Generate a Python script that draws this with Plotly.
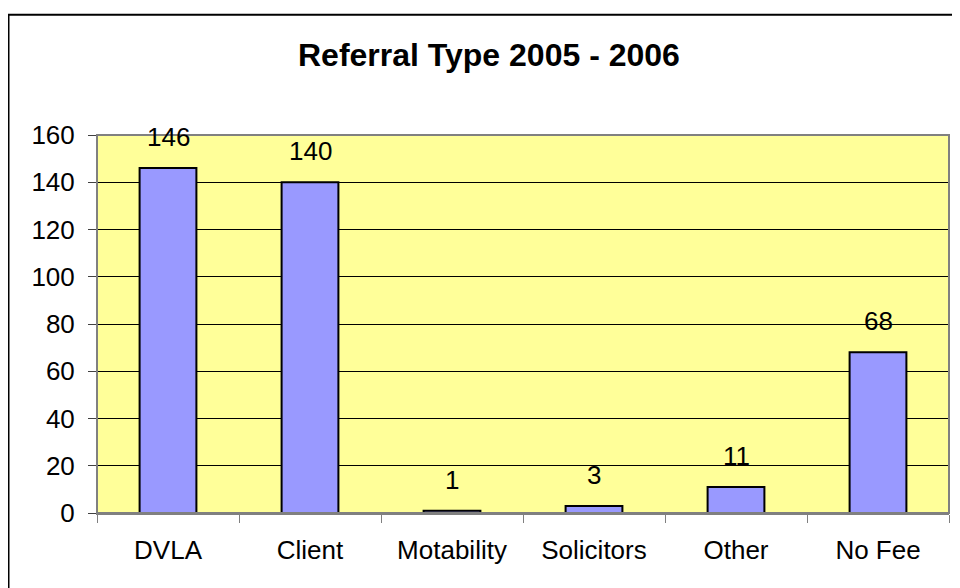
import plotly.graph_objects as go

categories = ["DVLA", "Client", "Motability", "Solicitors", "Other", "No Fee"]
values = [146, 140, 1, 3, 11, 68]
y_ticks = [0, 20, 40, 60, 80, 100, 120, 140, 160]
title_text = "Referral Type 2005 - 2006"

FONT = "Liberation Sans, Arial, sans-serif"

# figure size chosen so that the page (with 8px body margin) does not scroll
FW, FH = 952, 580
# figure-pixel geometry of plot area
L, R, T, B = 89, 941, 126.5, 505
PW, PH = R - L, B - T

fig = go.Figure()
fig.add_trace(go.Bar(
    x=categories, y=values,
    marker=dict(color="#9999FF", line=dict(color="black", width=2)),
    width=0.4,
    hoverinfo="skip",
))

annotations = []
for c, v in zip(categories, values):
    annotations.append(dict(
        x=c, y=v, xref="x", yref="y", text=str(v), showarrow=False,
        yanchor="bottom", yshift=14,
        font=dict(family=FONT, size=26, color="black"),
    ))
annotations.append(dict(
    x=(481 - L) / PW, y=(B - 46) / PH, xref="paper", yref="paper",
    text="<b>" + title_text + "</b>", showarrow=False,
    xanchor="center", yanchor="middle",
    font=dict(family=FONT, size=32, color="black"),
))

shapes = [
    # outer chart border (right and bottom edges fall outside the picture)
    dict(type="rect", xref="paper", yref="paper",
         x0=(0.5 - L) / PW, x1=1.2, y0=-0.5, y1=(B - 6) / PH,
         line=dict(color="black", width=2), fillcolor="rgba(0,0,0,0)", layer="below"),
    # plot area border (top/right gray)
    dict(type="rect", xref="paper", yref="paper", x0=0, x1=1, y0=0, y1=1,
         line=dict(color="#808080", width=2), fillcolor="rgba(0,0,0,0)", layer="above"),
]

fig.update_layout(
    width=FW, height=FH,
    margin=dict(l=L, r=FW - R, t=T, b=FH - B, pad=0),
    paper_bgcolor="white",
    plot_bgcolor="#FFFF99",
    showlegend=False,
    annotations=annotations,
    shapes=shapes,
    font=dict(family=FONT, size=26, color="black"),
)
fig.update_xaxes(
    type="category", tickson="boundaries",
    ticks="outside", ticklen=8, tickcolor="#808080", tickwidth=1,
    showline=True, linecolor="#808080", linewidth=2,
    showgrid=False, ticklabelstandoff=13,
    tickfont=dict(family=FONT, size=26, color="black"),
)
fig.update_yaxes(
    range=[0, 160], tickvals=y_ticks,
    ticks="outside", ticklen=8, tickcolor="#404040", tickwidth=1,
    showline=True, linecolor="#404040", linewidth=1,
    showgrid=True, gridcolor="black", gridwidth=1,
    zeroline=False, ticklabelstandoff=8,
    tickfont=dict(family=FONT, size=26, color="black"),
)

fig.write_html("out.html", config={"displayModeBar": False})
